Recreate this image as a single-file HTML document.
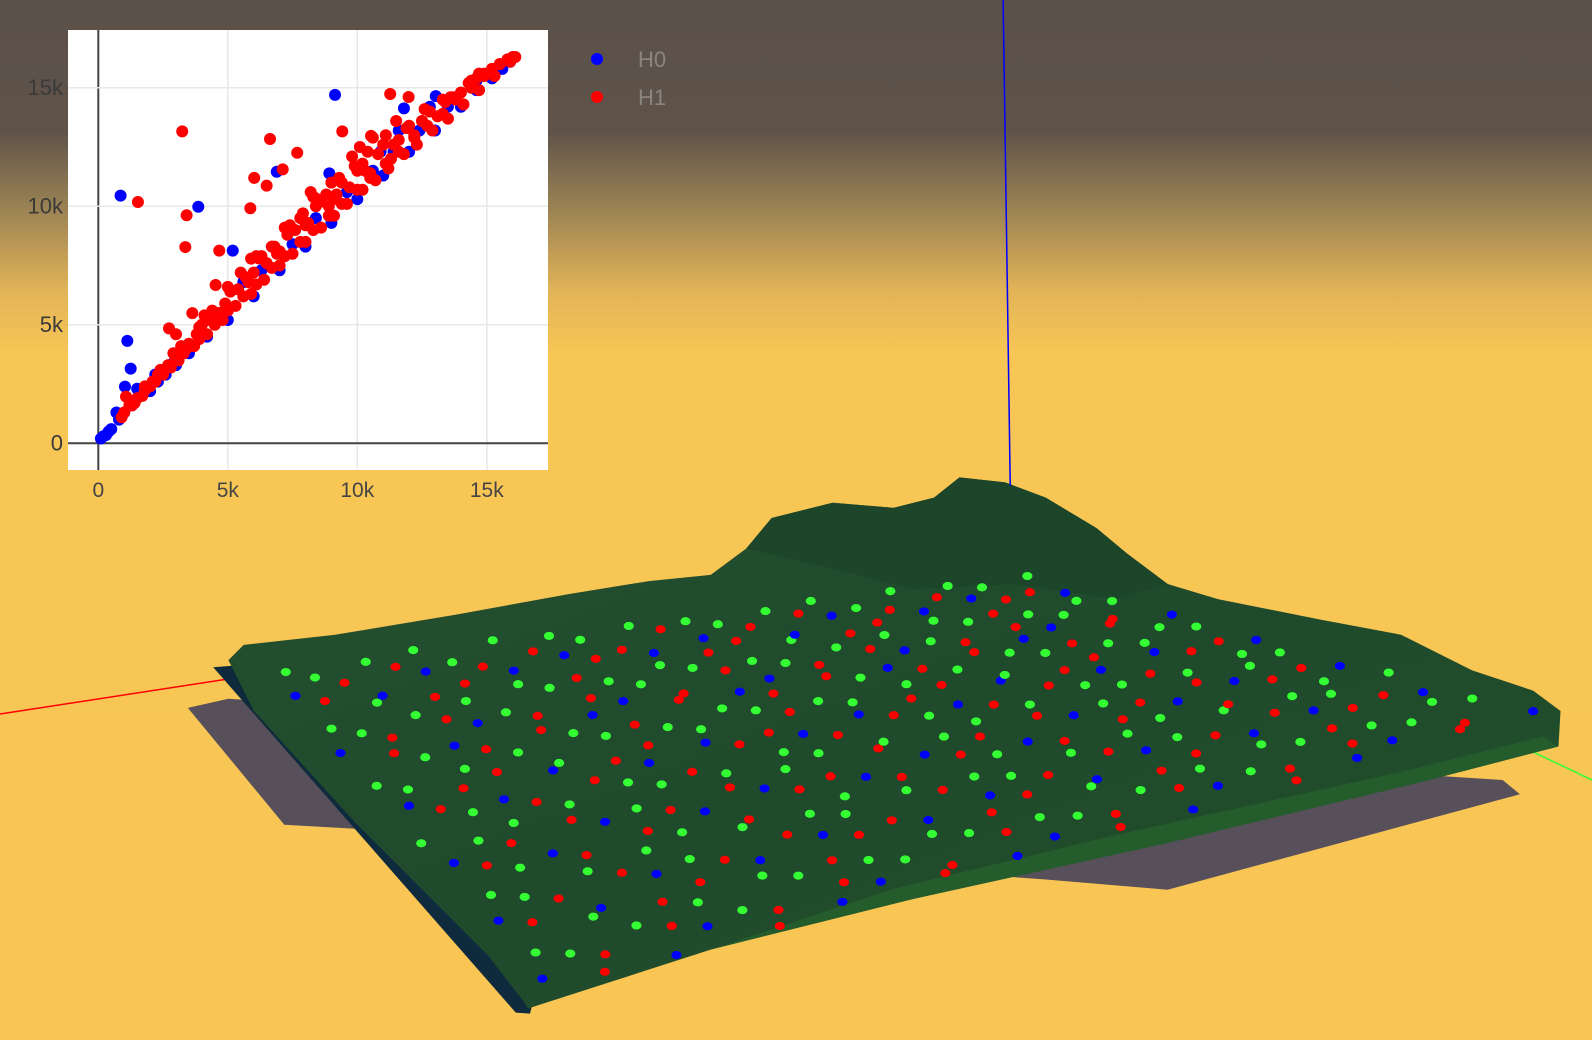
<!DOCTYPE html>
<html><head><meta charset="utf-8"><style>
html,body{margin:0;padding:0;width:1592px;height:1040px;overflow:hidden}
#scene{position:absolute;left:0;top:0}
#sc{position:absolute;left:0;top:0}
text{font-family:"Liberation Sans",sans-serif}
</style></head><body>
<svg id="scene" width="1592" height="1040" viewBox="0 0 1568 1024" preserveAspectRatio="none">
<defs>
<linearGradient id="bg" x1="0" y1="0" x2="0" y2="1">
<stop offset="0" stop-color="#5c5149"/><stop offset="0.125" stop-color="#5e5249"/>
<stop offset="0.2" stop-color="#9a8253"/><stop offset="0.28" stop-color="#e2b458"/><stop offset="0.34" stop-color="#f8c655"/><stop offset="1" stop-color="#f9c655"/>
</linearGradient>
<linearGradient id="top" x1="0" y1="0" x2="1" y2="1">
<stop offset="0" stop-color="#24502f"/><stop offset="0.5" stop-color="#1f4a2c"/><stop offset="1" stop-color="#21502c"/>
</linearGradient>
</defs>
<rect x="0" y="0" width="1568" height="1024" fill="url(#bg)"/>
<line x1="0" y1="703" x2="235" y2="667" stroke="#f00" stroke-width="1.5"/>
<line x1="1505" y1="738" x2="1568" y2="768" stroke="#3f3" stroke-width="1.5"/>
<polygon fill="#57505a" points="185,697 225,688 1480,768 1497,782 1150,876 1030,866 350,816 280,812"/>
<polygon fill="#0e2a3c" points="210,657 235,655 528,975 522,998 508,997"/>
<polygon fill="url(#top)" points="225,650 240,635 330,625 450,605 560,585 640,572 700,566 735,540 760,510 820,495 880,500 920,490 945,470 990,475 1030,490 1080,520 1110,545 1150,575 1200,590 1300,610 1380,625 1450,660 1510,680 1537,700 1535,735 1400,770 1150,830 900,885 700,935 520,993 515,985 480,940 350,810 250,700"/>
<polygon fill="#1c4529" points="735,540 760,510 820,495 880,500 920,490 945,470 990,475 1030,490 1080,520 1110,545 1150,575 1100,590 1000,575 900,580 820,560"/>
<polygon fill="#2a6a2e" opacity="0.55" points="700,935 900,885 1150,830 1400,770 1535,735 1520,725 1380,760 1100,822 880,875"/>
<g id="tdots"></g>
<line x1="988" y1="0" x2="995" y2="478" stroke="#00f" stroke-width="1.5"/>
</svg>

<svg id="sc" width="1592" height="1040">
<rect x="68" y="30" width="480" height="440" fill="#fff"/>
<g id="grid"></g><g id="pts"></g><g id="ticks"></g>
<g>
<g><circle cx="597" cy="59" r="6" fill="#00f"/><text x="638" y="67" font-size="22" fill="#8a8580">H0</text></g>
<g><circle cx="597" cy="97" r="6" fill="#f00"/><text x="638" y="105" font-size="22" fill="#8a8580">H1</text></g>
</g>
</svg>
<script>
// data (thousands)
const xTicks=[0,5,10,15];
const yTicks=[0,5,10,15];
const tickLabels=["0","5k","10k","15k"];
const h0Birth=[0.1,0.2,0.3,0.4,0.5,0.8,1.0,1.3,1.6,2.0,2.3,2.6,3.0,3.5,4.2,5.0,6.0,7.0,8.0,9.0,10.0,11.0,12.0,13.0,14.0,14.6,15.2,0.86,9.14,3.86,1.12,1.25,1.03,6.89,8.92,5.19,11.8,13.03,12.8,14.6,2.9,3.3,4.6,5.6,6.3,7.5,8.4,9.6,10.6,11.4,12.4,13.5,0.7,1.5,2.2,15.6,15.9,10.9,11.6];
const h0Death=[0.2,0.3,0.35,0.5,0.6,1.0,1.3,1.6,2.0,2.2,2.6,2.9,3.3,3.8,4.5,5.2,6.2,7.3,8.3,9.3,10.3,11.3,12.3,13.2,14.2,14.9,15.4,10.45,14.7,9.98,4.32,3.15,2.39,11.46,11.39,8.13,14.13,14.65,14.2,15.3,3.4,4.0,5.3,6.8,7.3,8.4,9.5,10.6,11.5,12.3,13.2,14.2,1.3,2.3,2.9,15.8,16.1,12.3,13.2];
const h1Birth=[3.24,1.53,3.41,3.36,6.63,7.68,6.02,5.87,6.5,4.67,4.53,11.27,11.98,9.42,10.53,10.1,7.12,8.39,5.9,3.63,2.73,1.07,1.8,
0.9,1.2,1.5,1.8,2.1,2.4,2.7,3.0,3.2,3.5,3.8,4.0,4.3,4.6,4.9,5.1,5.4,5.7,6.0,6.2,6.5,6.8,7.0,7.3,7.6,7.8,8.1,8.4,8.6,8.9,9.2,9.4,9.7,10.0,10.2,10.5,10.8,11.0,11.3,11.6,11.9,12.2,12.5,12.8,13.1,13.4,13.7,14.0,14.3,14.6,14.9,15.2,15.5,15.8,16.1,
1.0,1.4,2.0,2.5,3.1,3.7,4.2,4.8,5.3,5.9,6.4,7.0,7.5,8.0,8.6,9.1,9.6,10.2,10.7,11.2,11.8,12.3,12.9,13.5,14.1,14.7,15.3,15.9,
2.9,3.9,4.4,5.5,6.1,6.7,7.2,7.9,8.3,8.8,9.3,9.9,10.4,11.1,12.0,12.6,13.3,14.4,
3.0,4.1,5.0,6.3,7.4,8.2,9.0,9.8,10.6,11.5,
1.3,1.7,2.2,2.8,3.3,3.9,4.5,5.0,5.6,6.1,6.7,7.2,7.8,8.3,8.9,9.4,10.0,10.5,11.1,11.6,12.2,12.7,13.3,13.8,14.4,14.9,15.5,16.0,
2.3,3.4,4.7,5.8,6.9,8.0,9.1,10.3,11.4,12.5,13.6,14.7];
const h1Death=[13.16,10.18,9.62,8.28,12.84,12.26,11.2,9.92,10.87,8.13,6.68,14.74,14.61,13.16,12.97,12.5,11.56,10.34,7.79,5.49,4.85,1.97,2.25,
1.1,1.6,1.9,2.4,2.6,3.1,3.3,3.6,4.1,4.2,4.6,5.0,5.2,5.5,5.9,6.4,6.5,7.0,7.2,7.8,7.6,8.3,8.1,8.8,9.0,9.5,9.3,10.0,10.2,10.0,10.5,11.0,10.8,11.5,11.8,11.4,12.2,12.6,12.0,12.8,13.3,13.0,13.6,14.0,13.8,14.4,14.6,14.8,15.2,15.4,15.6,15.8,16.0,16.2,16.3,
1.3,1.7,2.4,2.9,3.5,4.1,4.6,5.2,5.8,6.3,6.9,7.5,8.0,8.5,9.1,9.6,10.1,10.7,11.1,11.6,12.2,12.6,13.2,13.7,14.3,14.9,15.5,16.1,
3.8,4.9,5.6,7.2,7.9,8.3,9.1,9.7,10.4,10.5,11.2,11.7,12.3,13.0,13.4,14.1,14.5,15.3,
4.6,5.4,6.6,7.9,9.2,10.6,11.0,12.1,12.9,13.6,
1.6,2.0,2.6,3.2,3.8,4.4,5.0,5.6,6.2,6.7,7.4,7.9,8.5,9.0,9.6,10.1,10.7,11.2,11.8,12.3,12.9,13.4,13.9,14.5,15.0,15.5,16.0,16.3,
2.9,4.0,5.5,6.8,8.0,9.2,10.3,11.5,12.6,13.6,14.6,15.6];
const NS="http://www.w3.org/2000/svg";
function sx(v){return 98.3+v*25.9;}
function sy(v){return 443.3-v*23.7;}
const grid=document.getElementById('grid'),ticks=document.getElementById('ticks'),pts=document.getElementById('pts');
xTicks.forEach((t,i)=>{
 const l=document.createElementNS(NS,'line');
 
 
 l.setAttribute('x1',sx(t));l.setAttribute('x2',sx(t));l.setAttribute('y1',30);l.setAttribute('y2',470);
 l.setAttribute('stroke',t===0?'#444':'#e8e8e8');l.setAttribute('stroke-width',t===0?2:1.5);grid.appendChild(l);
 const tx=document.createElementNS(NS,'text');
 
 
 tx.setAttribute('x',sx(t));tx.setAttribute('y',497);tx.setAttribute('text-anchor','middle');tx.setAttribute('font-size','21');tx.setAttribute('fill','#444');
 tx.textContent=tickLabels[i];ticks.appendChild(tx);
});
yTicks.forEach((t,i)=>{
 const l=document.createElementNS(NS,'line');
 
 
 l.setAttribute('x1',68);l.setAttribute('x2',548);l.setAttribute('y1',sy(t));l.setAttribute('y2',sy(t));
 l.setAttribute('stroke',t===0?'#444':'#e8e8e8');l.setAttribute('stroke-width',t===0?2:1.5);grid.appendChild(l);
 const tx=document.createElementNS(NS,'text');
 
 
 tx.setAttribute('x',63);tx.setAttribute('y',sy(t)+7);tx.setAttribute('text-anchor','end');tx.setAttribute('font-size','22');tx.setAttribute('fill','#3a3a3a');
 tx.textContent=tickLabels[i];ticks.appendChild(tx);
});
function plot(b,d,c,name){b.forEach((v,i)=>{
 const p=document.createElementNS(NS,'circle');
 
 
 p.setAttribute('cx',sx(v));p.setAttribute('cy',sy(d[i]));p.setAttribute('r',6);p.setAttribute('fill',c);pts.appendChild(p);});}
plot(h0Birth,h0Death,'#00f','h0-point');
plot(h1Birth,h1Death,'#f00','h1-point');
// terrain texture dots (decorative lattice)
const td=document.getElementById('tdots');
const L=[225,650],B=[1000,560],R=[1537,700],F=[515,990];
const cols=['#f00','#3f3','#00f','#3f3','#f00'];
for(let i=1;i<30;i++)for(let j=1;j<30;j++){
 if(((i*7+j*13)%5)>1)continue;
 const u=(i+((j*3)%4)*0.2)/30,v=(j+((i*5)%3)*0.25)/30;
 const x=(1-u)*(1-v)*L[0]+u*(1-v)*B[0]+u*v*R[0]+(1-u)*v*F[0];
 const y=(1-u)*(1-v)*L[1]+u*(1-v)*B[1]+u*v*R[1]+(1-u)*v*F[1];
 const e=document.createElementNS(NS,'ellipse');
 
 
 e.setAttribute('cx',x);e.setAttribute('cy',y);e.setAttribute('rx',5);e.setAttribute('ry',4);
 e.setAttribute('fill',cols[(i+j*2)%5]);td.appendChild(e);
}
</script>
</body></html>
